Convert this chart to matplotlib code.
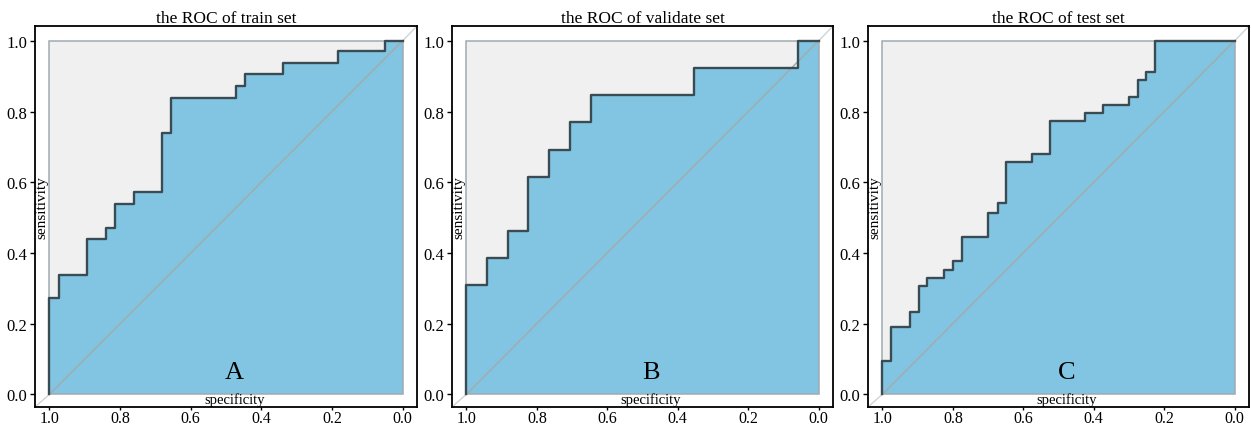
import matplotlib
matplotlib.use("Agg")
import matplotlib.pyplot as plt
from matplotlib.patches import Rectangle

plt.rcParams["font.family"] = ["Liberation Serif", "DejaVu Serif"]

# ROC points (specificity, sensitivity)
train_spec = [1.0, 1.0, 0.972, 0.894, 0.839, 0.814, 0.761, 0.682, 0.657, 0.471, 0.446, 0.339, 0.183, 0.051, 0.0]
train_sens = [0.0, 0.271, 0.337, 0.438, 0.471, 0.537, 0.572, 0.739, 0.839, 0.872, 0.905, 0.937, 0.972, 1.0, 1.0]

valid_spec = [1.0, 1.0, 0.941, 0.882, 0.824, 0.765, 0.706, 0.647, 0.353, 0.059, 0.0]
valid_sens = [0.0, 0.308, 0.385, 0.462, 0.615, 0.692, 0.769, 0.846, 0.923, 1.0, 1.0]

test_spec = [1.0, 1.0, 0.975, 0.923, 0.897, 0.874, 0.824, 0.799, 0.774, 0.699, 0.673,
             0.650, 0.574, 0.524, 0.424, 0.374, 0.301, 0.275, 0.251, 0.226, 0.0]
test_sens = [0.0, 0.093, 0.190, 0.234, 0.305, 0.328, 0.352, 0.376, 0.444, 0.514, 0.540,
             0.656, 0.679, 0.772, 0.795, 0.818, 0.840, 0.889, 0.912, 1.0, 1.0]

titles = ["the ROC of train set", "the ROC of validate set", "the ROC of test set"]
letters = ["A", "B", "C"]
ticks = [1.0, 0.8, 0.6, 0.4, 0.2, 0.0]

FILL = "#82c5e2"
PANEL = "#f0f0f0"
LINE = "#3b4b53"
DIAG = "#a3abaf"

W, H = 1251, 427
fig = plt.figure(figsize=(W / 100, H / 100), dpi=100)

# axes boxes in pixels: left, right
boxes = [(35, 417), (452, 833), (868, 1249)]
top_px, bot_px = 27, 408

curves = [(train_spec, train_sens), (valid_spec, valid_sens), (test_spec, test_sens)]

for (l, r), (spec, sens), title, letter in zip(boxes, curves, titles, letters):
    ax = fig.add_axes([l / W, 1 - bot_px / H, (r - l) / W, (bot_px - top_px) / H])
    xlim = (1.041, -0.041)
    ylim = (-0.036, 1.042)
    ax.set_xlim(*xlim)
    ax.set_ylim(*ylim)

    # grey "back wall" of the pseudo-3D panel
    ax.add_patch(Rectangle((0, 0), 1, 1, facecolor=PANEL, edgecolor="none", zorder=0))
    # corner lines for the 3D look
    ax.plot([1, xlim[0]], [0, ylim[0]], color="#d0d4d6", lw=1, zorder=1)
    ax.plot([0, xlim[1]], [1, ylim[1]], color="#d0d4d6", lw=1, zorder=1)

    ax.fill_between(spec, sens, step="post", color=FILL, lw=0, zorder=2)
    ax.plot([1, 0], [0, 1], color=DIAG, lw=1.1, zorder=3)
    ax.add_patch(Rectangle((0, 0), 1, 1, facecolor="none", edgecolor="#9eabb1", lw=1.1, zorder=3))
    ax.plot(spec, sens, drawstyle="steps-post", color=LINE, lw=1.7, zorder=4)

    ax.text(0.476, 0.062, letter, fontsize=19, ha="center", va="center", zorder=5)
    ax.text(0.476, -0.014, "specificity", fontsize=10.5, ha="center", va="center", zorder=5)
    ax.text(1.004, 0.53, "sensitivity", fontsize=11, rotation=90, ha="right", va="center", zorder=5)

    ax.set_xticks(ticks)
    ax.set_yticks(ticks[::-1])
    ax.set_xticklabels([f"{t:.1f}" for t in ticks])
    ax.set_yticklabels([f"{t:.1f}" for t in ticks[::-1]])
    ax.tick_params(direction="out", length=3.5, width=1, labelsize=12, pad=2)
    ax.tick_params(axis="x", length=2.5, pad=0, labelsize=11.5)
    for s in ax.spines.values():
        s.set_linewidth(1.3)
    ax.set_title(title, fontsize=12.5, pad=3)

fig.savefig("out.png", dpi=100)
